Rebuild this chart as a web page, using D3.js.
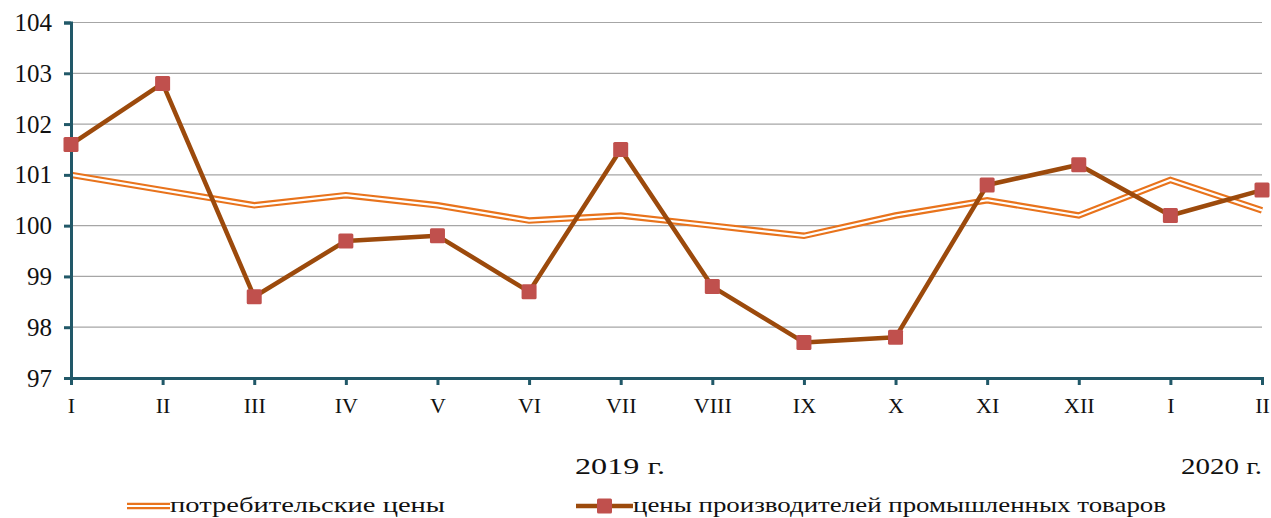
<!DOCTYPE html>
<html>
<head>
<meta charset="utf-8">
<script src="https://cdn.jsdelivr.net/npm/d3@7"></script>
<style>
  body { margin: 0; background: #fff; }
  svg { display: block; font-family: "Liberation Serif", "Times New Roman", serif; }
</style>
</head>
<body>
<div id="chart"></div>
<script>
const months = ['I', 'II', 'III', 'IV', 'V', 'VI', 'VII', 'VIII', 'IX', 'X', 'XI', 'XII', 'I', 'II'];
const consumerPrices = [101.0, 100.7, 100.4, 100.6, 100.4, 100.1, 100.2, 100.0, 99.8, 100.2, 100.5, 100.2, 100.9, 100.3];
const producerPrices = [101.6, 102.8, 98.6, 99.7, 99.8, 98.7, 101.5, 98.8, 97.7, 97.8, 100.8, 101.2, 100.2, 100.7];
const yTicks = [97, 98, 99, 100, 101, 102, 103, 104];
const yearLabels = ['2019 г.', '2020 г.'];
const legendLabels = ['потребительские цены', 'цены производителей промышленных товаров'];

const W = 1271, H = 518;
const plotLeft = 71, plotRight = 1262, plotTop = 22.5, plotBottom = 378;
const axisColor = '#215868';

const svg = d3.select('#chart').append('svg')
    .attr('width', W).attr('height', H);

const idx = d3.range(months.length);
const x = d3.scalePoint().domain(idx).range([plotLeft, plotRight]);
const y = d3.scaleLinear().domain([97, 104]).range([plotBottom, plotTop]);

// gridlines
svg.append('g')
    .selectAll('line')
    .data(yTicks.filter(t => t > 97))
    .join('line')
    .attr('x1', plotLeft).attr('x2', plotRight)
    .attr('y1', d => y(d)).attr('y2', d => y(d))
    .attr('stroke', '#a6a6a6')
    .attr('stroke-width', 1.2);

// consumer prices: double line (orange with white core)
const line = d3.line().x((d, i) => x(i)).y(d => y(d));
svg.append('path')
    .datum(consumerPrices)
    .attr('d', line)
    .attr('fill', 'none')
    .attr('stroke', '#e8731c')
    .attr('stroke-width', 6.5)
    .attr('stroke-linejoin', 'miter');
svg.append('path')
    .datum(consumerPrices)
    .attr('d', line)
    .attr('fill', 'none')
    .attr('stroke', '#fff')
    .attr('stroke-width', 2.2)
    .attr('stroke-linejoin', 'miter');

// axes
const yAxis = svg.append('g')
    .attr('transform', `translate(${plotLeft},0)`)
    .call(d3.axisLeft(y).tickValues(yTicks).tickSize(7).tickPadding(12).tickFormat(d3.format('d')));
yAxis.attr('font-family', null);
yAxis.select('.domain').attr('stroke', axisColor).attr('stroke-width', 3);
yAxis.selectAll('.tick line').attr('stroke', axisColor).attr('stroke-width', 3);
yAxis.selectAll('text')
    .attr('font-size', 25)
    .attr('fill', '#111')
    .attr('dy', '0.32em');

const xAxis = svg.append('g')
    .attr('transform', `translate(0,${plotBottom})`)
    .call(d3.axisBottom(x).tickSize(7).tickPadding(12).tickFormat(i => months[i]));
xAxis.attr('font-family', null);
xAxis.select('.domain').attr('stroke', axisColor).attr('stroke-width', 3);
xAxis.selectAll('.tick line').attr('stroke', axisColor).attr('stroke-width', 3);
xAxis.selectAll('text')
    .attr('font-size', 22)
    .attr('fill', '#111');

// producer prices
svg.append('path')
    .datum(producerPrices)
    .attr('d', line)
    .attr('fill', 'none')
    .attr('stroke', '#9c4a0c')
    .attr('stroke-width', 4.5)
    .attr('stroke-linejoin', 'round');
svg.append('g')
    .selectAll('rect')
    .data(producerPrices)
    .join('rect')
    .attr('x', (d, i) => x(i) - 7.5)
    .attr('y', d => y(d) - 7.5)
    .attr('width', 15).attr('height', 15)
    .attr('rx', 1.5)
    .attr('fill', '#c0504d');

// year labels
svg.append('text')
    .attr('x', 575).attr('y', 474)
    .attr('font-size', 24)
    .attr('textLength', 90).attr('lengthAdjust', 'spacingAndGlyphs')
    .attr('fill', '#111')
    .text(yearLabels[0]);
svg.append('text')
    .attr('x', 1181).attr('y', 474)
    .attr('font-size', 24)
    .attr('textLength', 81).attr('lengthAdjust', 'spacingAndGlyphs')
    .attr('fill', '#111')
    .text(yearLabels[1]);

// legend
const legY = 506;
const lg = svg.append('g');
lg.append('line').attr('x1', 127).attr('x2', 170).attr('y1', legY).attr('y2', legY)
    .attr('stroke', '#e8731c').attr('stroke-width', 6.5);
lg.append('line').attr('x1', 127).attr('x2', 170).attr('y1', legY).attr('y2', legY)
    .attr('stroke', '#fff').attr('stroke-width', 2.2);
lg.append('text').attr('x', 170).attr('y', 512)
    .attr('font-size', 22)
    .attr('textLength', 275).attr('lengthAdjust', 'spacingAndGlyphs')
    .attr('fill', '#111')
    .text(legendLabels[0]);

lg.append('line').attr('x1', 576).attr('x2', 633).attr('y1', legY).attr('y2', legY)
    .attr('stroke', '#9c4a0c').attr('stroke-width', 4.5);
lg.append('rect').attr('x', 597).attr('y', legY - 7.5).attr('width', 15).attr('height', 15)
    .attr('rx', 1.5).attr('fill', '#c0504d');
lg.append('text').attr('x', 633).attr('y', 512)
    .attr('font-size', 22)
    .attr('textLength', 533).attr('lengthAdjust', 'spacingAndGlyphs')
    .attr('fill', '#111')
    .text(legendLabels[1]);
</script>
</body>
</html>
